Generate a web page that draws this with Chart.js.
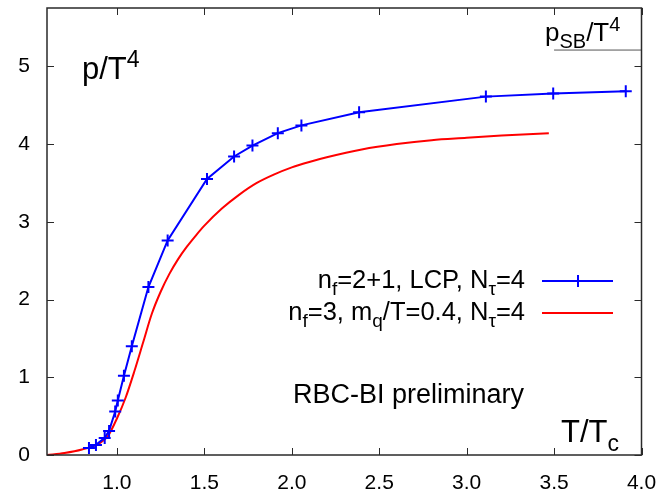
<!DOCTYPE html>
<html>
<head>
<meta charset="utf-8">
<script src="https://cdn.jsdelivr.net/npm/chart.js@4/dist/chart.umd.min.js"></script>
<style>
  html, body { margin: 0; padding: 0; background: #fff; }
  #wrap { width: 665px; height: 494px; }
</style>
</head>
<body>
<div id="wrap"><canvas id="pressure"></canvas></div>
<script>
// p/T^4 versus T/Tc, two lattice data sets
const lcpT = [0.84, 0.88, 0.93, 0.955, 0.99, 1.005, 1.04, 1.085, 1.18, 1.29, 1.515, 1.67, 1.775, 1.92, 2.055, 2.385, 3.11, 3.495, 3.91];
const lcpP = [0.09, 0.13, 0.22, 0.31, 0.56, 0.70, 1.02, 1.40, 2.16, 2.76, 3.55, 3.84, 3.98, 4.14, 4.24, 4.41, 4.61, 4.65, 4.68];

const nf3T = [0.6, 0.7, 0.8, 0.9, 0.95, 1.0, 1.05, 1.1, 1.15, 1.2, 1.25, 1.3, 1.35, 1.4, 1.45, 1.5, 1.6, 1.7, 1.8, 1.9, 2.0, 2.1, 2.2, 2.4, 2.6, 2.8, 3.0, 3.2, 3.47];
const nf3P = [0, 0.025, 0.07, 0.15, 0.25, 0.47, 0.74, 1.08, 1.45, 1.82, 2.10, 2.33, 2.52, 2.68, 2.82, 2.95, 3.17, 3.35, 3.50, 3.61, 3.70, 3.77, 3.83, 3.93, 4.00, 4.05, 4.08, 4.11, 4.14];

// Stefan-Boltzmann limit marker
const sbT = [3.5, 4.0];
const sbP = [5.209, 5.209];

const xTicks = [1.0, 1.5, 2.0, 2.5, 3.0, 3.5, 4.0];
const yTicks = [0, 1, 2, 3, 4, 5];

const FONT = "'Liberation Sans', Arial, sans-serif";
const BLUE = "#0000ff";
const RED = "#ff0000";
const FRAME = "#2a2a2a";

const toPoints = (xs, ys) => xs.map((x, i) => ({ x, y: ys[i] }));

// text with sub/superscripts: parts = [[text, "sub"|"sup"|undefined], ...]
function richText(ctx, parts, x, y, size, align) {
  const small = Math.round(size * 0.75);
  const widths = parts.map(([t, m]) => {
    ctx.font = `${m ? small : size}px ${FONT}`;
    return ctx.measureText(t).width;
  });
  const total = widths.reduce((a, b) => a + b, 0);
  let cx = align === "right" ? x - total : x;
  ctx.textAlign = "left";
  ctx.textBaseline = "alphabetic";
  parts.forEach(([t, m], i) => {
    ctx.font = `${m ? small : size}px ${FONT}`;
    let dy = 0;
    if (m === "sub") dy = size * 0.28;
    if (m === "sup") dy = -size * 0.4;
    ctx.fillText(t, cx, y + dy);
    cx += widths[i];
  });
}

const framePlugin = {
  id: "frame",
  afterDraw(chart) {
    const { ctx, chartArea: a, scales } = chart;
    const tick = 7;
    ctx.save();
    ctx.strokeStyle = FRAME;
    ctx.lineWidth = 1.5;
    ctx.strokeRect(a.left, a.top, a.right - a.left, a.bottom - a.top);
    ctx.lineWidth = 1;
    ctx.beginPath();
    xTicks.forEach((v) => {
      const px = Math.round(scales.x.getPixelForValue(v)) + 0.5;
      ctx.moveTo(px, a.bottom); ctx.lineTo(px, a.bottom - tick);
      ctx.moveTo(px, a.top); ctx.lineTo(px, a.top + tick);
    });
    yTicks.forEach((v) => {
      const py = Math.round(scales.y.getPixelForValue(v)) + 0.5;
      ctx.moveTo(a.left, py); ctx.lineTo(a.left + tick, py);
      ctx.moveTo(a.right, py); ctx.lineTo(a.right - tick, py);
    });
    ctx.stroke();

    ctx.fillStyle = "#000";
    // axis titles and annotations
    richText(ctx, [["p/T"], ["4", "sup"]], 82, 79, 31);
    richText(ctx, [["T/T"], ["c", "sub"]], 561, 442, 31);
    richText(ctx, [["p"], ["SB", "sub"], ["/T"], ["4", "sup"]], 545, 41, 26);
    ctx.font = `27px ${FONT}`;
    ctx.fillText("RBC-BI preliminary", 293, 403);

    // key
    const rows = [
      { parts: [["n"], ["f", "sub"], ["=2+1, LCP, N"], ["\u03c4", "sub"], ["=4"]], color: BLUE, mark: true },
      { parts: [["n"], ["f", "sub"], ["=3, m"], ["q", "sub"], ["/T=0.4, N"], ["\u03c4", "sub"], ["=4"]], color: RED, mark: false },
    ];
    rows.forEach((r, i) => {
      const base = 288 + i * 32;
      ctx.fillStyle = "#000";
      richText(ctx, r.parts, 525, base, 25.5, "right");
      const ly = base - 7;
      ctx.strokeStyle = r.color;
      ctx.lineWidth = 2;
      ctx.beginPath();
      ctx.moveTo(542, ly); ctx.lineTo(613, ly);
      if (r.mark) {
        ctx.moveTo(572, ly); ctx.lineTo(584, ly);
        ctx.moveTo(578, ly - 6); ctx.lineTo(578, ly + 6);
      }
      ctx.stroke();
    });
    ctx.restore();
  },
};

new Chart(document.getElementById("pressure"), {
  type: "line",
  data: {
    datasets: [
      {
        label: "nf=2+1, LCP",
        data: toPoints(lcpT, lcpP),
        borderColor: BLUE,
        backgroundColor: BLUE,
        borderWidth: 2,
        tension: 0,
        pointStyle: "cross",
        pointRadius: 6,
        pointBorderWidth: 2,
      },
      {
        label: "nf=3",
        data: toPoints(nf3T, nf3P),
        borderColor: RED,
        borderWidth: 2,
        cubicInterpolationMode: "monotone",
        pointRadius: 0,
      },
      {
        label: "SB",
        data: toPoints(sbT, sbP),
        borderColor: "#555",
        borderWidth: 1,
        pointRadius: 0,
      },
    ],
  },
  options: {
    responsive: true,
    maintainAspectRatio: false,
    animation: false,
    layout: { padding: { top: 7, right: 23.5, left: 0, bottom: 0 } },
    plugins: { legend: { display: false }, tooltip: { enabled: false } },
    scales: {
      x: {
        type: "linear",
        min: 0.6,
        max: 4.0,
        grid: { display: false, drawTicks: false },
        border: { display: false },
        afterFit: (s) => { s.height = 39; s.paddingLeft = 0; s.paddingRight = 0; },
        ticks: {
          stepSize: 0.5,
          includeBounds: false,
          autoSkip: false,
          maxRotation: 0,
          padding: 16,
          color: "#000",
          font: { family: FONT, size: 21 },
          callback: (v) => Number(v).toFixed(1),
        },
      },
      y: {
        min: 0,
        max: 5.75,
        grid: { display: false, drawTicks: false },
        border: { display: false },
        afterFit: (s) => { s.width = 47; s.paddingTop = 0; s.paddingBottom = 0; },
        ticks: {
          stepSize: 1,
          includeBounds: false,
          autoSkip: false,
          padding: 17,
          color: "#000",
          font: { family: FONT, size: 21 },
        },
      },
    },
  },
  plugins: [framePlugin],
});
</script>
</body>
</html>
